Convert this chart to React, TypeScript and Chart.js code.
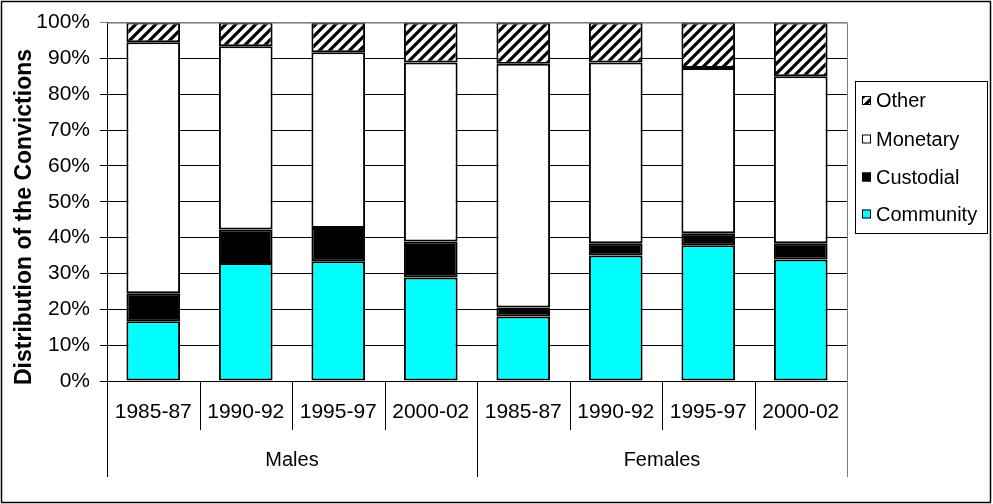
import React, { useEffect, useRef } from "react";
import { Chart, registerables } from "chart.js";

Chart.register(...registerables);

const categories = ["1985-87", "1990-92", "1995-97", "2000-02", "1985-87", "1990-92", "1995-97", "2000-02"];
const groups = ["Males", "Females"];
const community = [16.7, 32.9, 33.4, 28.9, 18.0, 35.0, 37.9, 33.9];
const custodial = [7.8, 9.4, 9.3, 10.0, 2.5, 3.4, 3.3, 4.5];
const monetary = [70.0, 51.1, 49.0, 50.0, 68.0, 50.5, 46.1, 46.6];
const other = [5.5, 6.6, 8.3, 11.1, 11.5, 11.1, 12.7, 15.0];
const yTitle = "Distribution of the Convictions";
const legendLabels = ["Other", "Monetary", "Custodial", "Community"];

const FONT = '"Liberation Sans", Arial, sans-serif';

function makeHatch(): CanvasPattern | string {
  const c = document.createElement("canvas");
  c.width = 10;
  c.height = 10;
  const g = c.getContext("2d");
  if (!g) return "#888";
  g.fillStyle = "#fff";
  g.fillRect(0, 0, 10, 10);
  g.strokeStyle = "#000";
  g.lineWidth = 3.2;
  g.beginPath();
  g.moveTo(-2, 12);
  g.lineTo(12, -2);
  g.moveTo(-7, 7);
  g.lineTo(7, -7);
  g.moveTo(3, 17);
  g.lineTo(17, 3);
  g.stroke();
  const p = g.createPattern(c, "repeat");
  return p || "#888";
}

export default function App() {
  const ref = useRef<HTMLCanvasElement | null>(null);

  useEffect(() => {
    document.body.style.margin = "0";
    const canvas = ref.current;
    if (!canvas) return;
    const hatch = makeHatch();
    const fills = [hatch, "#ffffff", "#000000", "#00ffff"];

    const decor = {
      id: "decor",
      afterDraw(chart: any) {
        const ctx = chart.ctx as CanvasRenderingContext2D;
        const { left, right, top, bottom } = chart.chartArea;
        const xs = chart.scales.x;
        ctx.save();
        ctx.strokeStyle = "#808080";
        ctx.lineWidth = 1;
        ctx.beginPath();
        ctx.moveTo(left, top + 0.5);
        ctx.lineTo(Math.round(right) + 0.5, top + 0.5);
        ctx.stroke();
        const n = categories.length;
        for (let i = 0; i <= n; i++) {
          let x: number;
          if (i === 0) x = left;
          else if (i === n) x = right;
          else x = (xs.getPixelForValue(i - 1) + xs.getPixelForValue(i)) / 2;
          const isGroup = i % 4 === 0;
          ctx.strokeStyle = i === n ? "#808080" : "#000";
          ctx.lineWidth = 1;
          ctx.beginPath();
          const px = Math.round(x) + 0.5;
          ctx.moveTo(px, i === n ? top : bottom);
          ctx.lineTo(px, isGroup ? bottom + 96 : bottom + 49);
          ctx.stroke();
        }
        ctx.fillStyle = "#000";
        ctx.font = `20px ${FONT}`;
        ctx.textAlign = "center";
        ctx.textBaseline = "middle";
        groups.forEach((g, gi) => {
          const a = xs.getPixelForValue(gi * 4);
          const b = xs.getPixelForValue(gi * 4 + 3);
          ctx.fillText(g, (a + b) / 2, bottom + 79);
        });
        ctx.save();
        ctx.translate(25, 217);
        ctx.rotate(-Math.PI / 2);
        ctx.font = `bold 23px ${FONT}`;
        ctx.textAlign = "center";
        ctx.textBaseline = "middle";
        ctx.fillText(yTitle, 0, 0);
        ctx.restore();
        const lx = 855.5, ly = 81.5, lw = 132, lh = 152;
        ctx.strokeStyle = "#000";
        ctx.lineWidth = 1;
        ctx.strokeRect(lx, ly, lw, lh);
        const rows = [100.5, 139, 177, 214];
        ctx.font = `20px ${FONT}`;
        ctx.textAlign = "left";
        legendLabels.forEach((lab, i) => {
          const cy = rows[i];
          ctx.fillStyle = fills[i] as any;
          ctx.fillRect(862, cy - 4.5, 9, 9);
          ctx.strokeStyle = "#000";
          ctx.lineWidth = 1;
          ctx.strokeRect(862.5, cy - 4, 8, 8);
          ctx.fillStyle = "#000";
          ctx.fillText(lab, 876, cy + 1);
        });
        ctx.strokeStyle = "#000";
        ctx.lineWidth = 1.5;
        ctx.strokeRect(1.5, 1.5, 989, 501);
        ctx.restore();
      },
    };

    const chart = new Chart(canvas, {
      type: "bar",
      data: {
        labels: categories,
        datasets: [
          { label: "Community", data: community, backgroundColor: "#00ffff" },
          { label: "Custodial", data: custodial, backgroundColor: "#000000" },
          { label: "Monetary", data: monetary, backgroundColor: "#ffffff" },
          { label: "Other", data: other, backgroundColor: hatch as any },
        ].map((d) => ({
          ...d,
          borderColor: "#000",
          borderWidth: 2,
          borderSkipped: false,
          categoryPercentage: 1,
          barPercentage: 0.58,
        })),
      },
      options: {
        animation: false,
        responsive: true,
        maintainAspectRatio: false,
        layout: { padding: { left: 0, top: 20, right: 146, bottom: 0 } },
        plugins: { legend: { display: false }, tooltip: { enabled: false }, title: { display: false } },
        scales: {
          x: {
            stacked: true,
            offset: true,
            grid: { display: false, drawTicks: false },
            border: { display: true, color: "#000", width: 1 },
            ticks: {
              color: "#000",
              font: { family: FONT, size: 21 },
              padding: 19,
              maxRotation: 0,
              autoSkip: false,
            },
            afterFit: (s: any) => {
              s.height = 123;
            },
          },
          y: {
            stacked: true,
            min: 0,
            max: 100,
            grid: {
              color: (c: any) => (c.tick && c.tick.value === 100 ? "#808080" : "#000"),
              tickLength: 7,
              lineWidth: 1,
            },
            border: { display: true, color: "#000", width: 1 },
            ticks: {
              stepSize: 10,
              color: "#000",
              font: { family: FONT, size: 21 },
              padding: 10,
              callback: (v: any) => `${v}%`,
            },
            afterFit: (s: any) => {
              s.width = 107;
            },
          },
        },
      },
      plugins: [decor],
    });
    return () => chart.destroy();
  }, []);

  return (
    <div style={{ width: 993, height: 504, position: "relative" }}>
      <canvas ref={ref} />
    </div>
  );
}
